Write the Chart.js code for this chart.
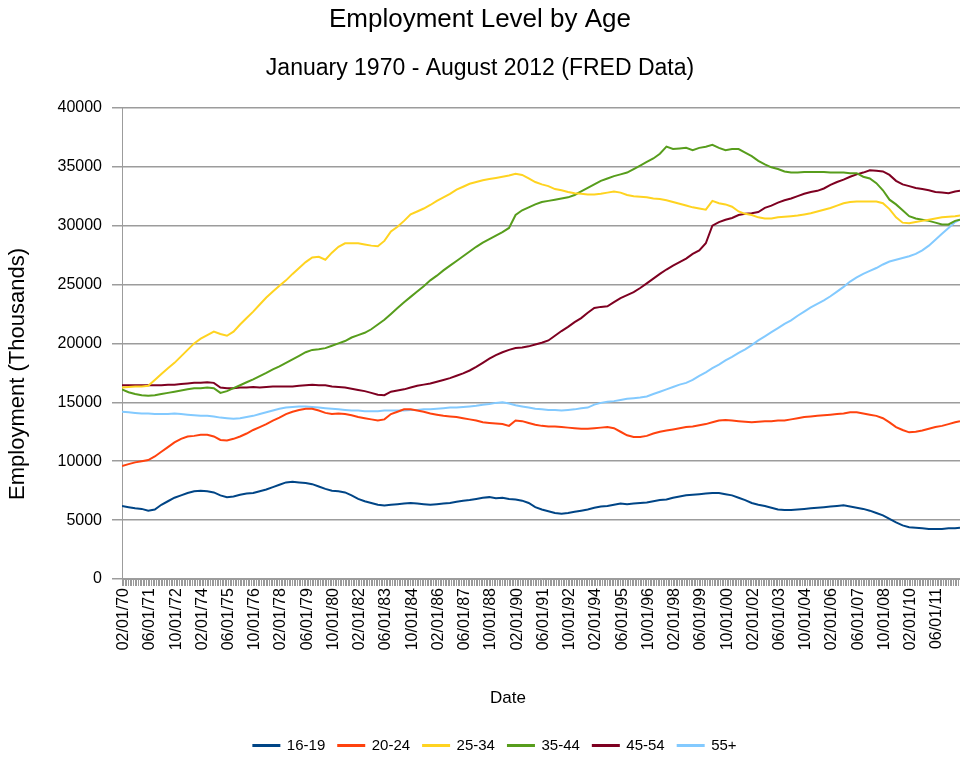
<!DOCTYPE html>
<html>
<head>
<meta charset="utf-8">
<script src="https://cdn.jsdelivr.net/npm/chart.js@4"></script>
<style>
  html, body { margin: 0; padding: 0; background: #ffffff; }
  #wrap { width: 960px; height: 759px; }
</style>
</head>
<body>
<div id="wrap"><canvas id="c" width="960" height="759"></canvas></div>
<script>
// ---- Data (thousands), sampled Jan / May / Sep of each year 1970-2011, then Jan 2012, May 2012, Aug 2012 ----
const seriesNames = ['16-19', '20-24', '25-34', '35-44', '45-54', '55+'];
const seriesColors = ['#004586', '#ff420e', '#ffd320', '#579d1c', '#7e0021', '#83caff'];

// month offsets from January 1970 of each sample
const sampleMonths = [];
for (let m = 0; m <= 508; m += 4) sampleMonths.push(m);
sampleMonths.push(511);

const age16_19 = [
  6200, 6100, 6000,  5950, 5800, 5900,  6300, 6600, 6900,  7100, 7300, 7450,
  7500, 7450, 7350,  7100, 6950, 7000,  7150, 7250, 7300,  7450, 7600, 7800,
  8000, 8200, 8250,  8200, 8150, 8050,  7850, 7650, 7500,  7450, 7350, 7100,
  6800, 6600, 6450,  6300, 6250, 6300,  6350, 6400, 6450,  6400, 6350, 6300,
  6350, 6400, 6450,  6550, 6650, 6700,  6800, 6900, 6950,  6850, 6900, 6800,
  6750, 6650, 6450,  6100, 5900, 5750,  5600, 5550, 5600,  5700, 5800, 5900,
  6050, 6150, 6200,  6300, 6400, 6350,  6400, 6450, 6500,  6600, 6700, 6750,
  6900, 7000, 7100,  7150, 7200, 7250,  7300, 7300, 7200,  7100, 6900, 6700,
  6450, 6300, 6200,  6050, 5900, 5850,  5850, 5900, 5950,  6000, 6050, 6100,
  6150, 6200, 6250,  6150, 6050, 5950,  5800, 5600, 5400,  5100, 4800, 4550,
  4400, 4350, 4300,  4250, 4250, 4250,  4300, 4300, 4350
];
const age20_24 = [
  9600, 9750, 9900,  10000, 10100, 10400,  10800, 11200, 11600,  11900, 12100, 12150,
  12250, 12250, 12100,  11800, 11750, 11900,  12100, 12350, 12650,  12900, 13150, 13450,
  13700, 14000, 14200,  14350, 14450, 14450,  14300, 14100, 14000,  14050, 14000, 13900,
  13750, 13650, 13550,  13450, 13550, 14000,  14200, 14400, 14400,  14300, 14200, 14050,
  13950, 13850, 13800,  13750, 13650, 13550,  13450, 13300, 13250,  13200, 13150, 13000,
  13450, 13400, 13250,  13100, 13000, 12950,  12950, 12900, 12850,  12800, 12750, 12750,
  12800, 12850, 12900,  12800, 12500, 12200,  12050, 12050, 12150,  12350, 12500, 12600,
  12700, 12800, 12900,  12950, 13050, 13150,  13300, 13450, 13500,  13450, 13400, 13350,
  13300, 13350, 13400,  13400, 13450, 13450,  13550, 13650, 13750,  13800, 13850, 13900,
  13950, 14000, 14050,  14150, 14150, 14050,  13950, 13850, 13650,  13300, 12900, 12650,
  12450, 12500, 12600,  12750, 12900, 13000,  13150, 13300, 13400
];
const age25_34 = [
  16250, 16300, 16350,  16350, 16400, 16900,  17400, 17900, 18350,  18900, 19450, 20000,
  20400, 20700, 21000,  20800, 20650, 21000,  21600, 22150, 22700,  23300, 23900, 24400,
  24900, 25350, 25900,  26400, 26900, 27300,  27350, 27100, 27700,  28200, 28500, 28500,
  28500, 28400, 28300,  28250, 28700, 29500,  29900, 30400, 30950,  31200, 31450, 31750,
  32100, 32400, 32700,  33050, 33300, 33550,  33700, 33850, 33950,  34050, 34150, 34250,
  34400, 34300, 34000,  33700, 33500, 33350,  33100, 33000, 32850,  32750, 32700, 32650,
  32650, 32700, 32800,  32900, 32800, 32600,  32500, 32450, 32400,  32300, 32250, 32150,
  32000, 31850, 31700,  31550, 31450, 31350,  32100, 31900, 31800,  31600, 31200, 31000,
  30900, 30700, 30600,  30600, 30700, 30750,  30800, 30850, 30950,  31050, 31200, 31350,
  31500, 31700, 31900,  32000, 32050, 32050,  32050, 32050, 31900,  31400, 30700, 30250,
  30200, 30300, 30400,  30500, 30600, 30700,  30750, 30800, 30850
];
const age35_44 = [
  16100, 15850, 15700,  15600, 15550, 15600,  15700, 15800, 15900,  16000, 16100, 16200,
  16200, 16250, 16200,  15800, 15950, 16200,  16450, 16700, 16950,  17230, 17500, 17800,
  18050, 18350, 18650,  18950, 19250, 19450,  19500, 19600, 19800,  20000, 20200, 20500,
  20700, 20900, 21200,  21600, 22000, 22500,  23000, 23500, 23950,  24400, 24850, 25350,
  25750, 26200, 26600,  27000, 27400, 27800,  28200, 28550, 28850,  29150, 29450, 29800,
  30900, 31300, 31550,  31800, 32000, 32100,  32200, 32300, 32400,  32600, 32900, 33200,
  33500, 33800, 34000,  34200, 34350, 34500,  34800, 35100, 35400,  35700, 36100, 36700,
  36500, 36550, 36600,  36400, 36600, 36700,  36850, 36600, 36400,  36500, 36500, 36200,
  35900, 35500, 35200,  34950, 34800, 34600,  34500, 34500, 34550,  34550, 34550, 34550,
  34500, 34500, 34500,  34450, 34450, 34150,  34000, 33600, 33000,  32200, 31800, 31300,
  30800, 30600, 30500,  30400, 30250, 30100,  30100, 30400, 30500
];
const age45_54 = [
  16450, 16450, 16450,  16450, 16450, 16450,  16450, 16500, 16500,  16550, 16600, 16650,
  16650, 16700, 16650,  16250, 16200, 16200,  16250, 16250, 16300,  16260, 16300, 16350,
  16350, 16350, 16350,  16400, 16450, 16500,  16450, 16450, 16350,  16300, 16250, 16150,
  16050, 15950, 15800,  15650, 15600, 15900,  16000, 16100, 16250,  16400, 16500, 16600,
  16750, 16900, 17050,  17250, 17450, 17700,  18000, 18350, 18700,  19000, 19250, 19450,
  19600, 19650, 19750,  19900, 20050, 20250,  20650, 21050, 21400,  21800, 22150, 22600,
  23000, 23100, 23150,  23500, 23850, 24100,  24350, 24700, 25100,  25500, 25900, 26270,
  26600, 26900, 27200,  27600, 27900, 28500,  30000, 30300, 30500,  30650, 30900, 31000,
  31050, 31150, 31500,  31700, 31950, 32150,  32300, 32500, 32700,  32850, 32950, 33150,
  33450, 33700, 33900,  34150, 34350, 34500,  34700, 34650, 34600,  34300, 33800, 33500,
  33350, 33200, 33100,  33000, 32850, 32800,  32750, 32900, 32950
];
const age55plus = [
  14200, 14150, 14100,  14050, 14050, 14000,  14000, 14000, 14050,  14000, 13950, 13900,
  13850, 13850, 13800,  13700, 13650, 13600,  13650, 13750, 13850,  14000, 14150, 14300,
  14450, 14550, 14600,  14650, 14650, 14600,  14550, 14500, 14450,  14400, 14350, 14300,
  14300, 14250, 14250,  14250, 14300, 14300,  14300, 14300, 14350,  14350, 14400, 14400,
  14450, 14500, 14550,  14550, 14600, 14650,  14700, 14800, 14850,  14950, 15000, 14900,
  14750, 14650, 14550,  14450, 14400, 14350,  14350, 14300, 14350,  14400, 14500, 14550,
  14800, 14950, 15050,  15100, 15200, 15300,  15350, 15400, 15500,  15700, 15900, 16100,
  16300, 16500, 16650,  16900, 17250, 17550,  17900, 18200, 18550,  18850, 19200, 19500,
  19850, 20250, 20600,  20950, 21300, 21650,  21950, 22350, 22700,  23050, 23350, 23650,
  24000, 24400, 24800,  25250, 25600, 25900,  26150, 26400, 26700,  26950, 27100, 27250,
  27400, 27600, 27900,  28300, 28800, 29300,  29800, 30300, 30500
];
const allSeries = [age16_19, age20_24, age25_34, age35_44, age45_54, age55plus];

// tick settings (labels every 16 months starting Feb 1970)
const yTickStep = 5000;
const yMax = 40000;
const xLabelEvery = 16;
const xLabelStart = 1;

function monthLabel(m) {
  const mm = String((m % 12) + 1).padStart(2, '0');
  const yy = String((1970 + Math.floor(m / 12)) % 100).padStart(2, '0');
  return mm + '/01/' + yy;
}

const FONT = "'Liberation Sans', Arial, sans-serif";
const gridColor = '#9c9c9c';

const datasets = seriesNames.map((name, i) => ({
  label: name,
  data: allSeries[i].map((v, j) => ({ x: sampleMonths[j], y: v })),
  borderColor: seriesColors[i],
  backgroundColor: seriesColors[i],
  borderWidth: 2,
  pointRadius: 0,
  tension: 0,
  fill: false
}));

// nudge the legend to where the reference draws it
const legendNudge = {
  id: 'legendNudge',
  afterLayout(chart) {
    const lg = chart.legend;
    if (!lg) return;
    lg.left += 15; lg.right += 15;
    lg.top += 4; lg.bottom += 4;
  }
};

new Chart(document.getElementById('c'), {
  type: 'line',
  data: { datasets },
  plugins: [legendNudge],
  options: {
    responsive: false,
    animation: false,
    devicePixelRatio: 1,
    layout: { padding: 0 },
    plugins: {
      title: {
        display: true,
        text: 'Employment Level by Age',
        color: '#000',
        font: { family: FONT, size: 26, weight: 'normal' },
        padding: { top: 4, bottom: 20 }
      },
      subtitle: {
        display: true,
        text: 'January 1970 - August 2012 (FRED Data)',
        color: '#000',
        font: { family: FONT, size: 23, weight: 'normal' },
        padding: { top: 0, bottom: 25 }
      },
      legend: {
        position: 'bottom',
        labels: {
          color: '#000',
          font: { family: FONT, size: 15 },
          boxWidth: 26,
          boxHeight: 1,
          padding: 13
        }
      },
      tooltip: { enabled: false }
    },
    scales: {
      x: {
        type: 'linear',
        min: 0,
        max: 511,
        afterFit(scale) { scale.height = 142; scale.paddingLeft = 0; scale.paddingRight = 0; },
        border: { display: true, color: gridColor, width: 1 },
        grid: { display: true, drawOnChartArea: false, drawTicks: true, tickLength: 7, color: '#9a9a9a', lineWidth: 1 },
        ticks: {
          stepSize: 1,
          autoSkip: false,
          minRotation: 90,
          maxRotation: 90,
          padding: 2,
          color: '#000',
          font: { family: FONT, size: 16 },
          callback: (v) => ((v - xLabelStart) % xLabelEvery === 0 ? monthLabel(v) : '')
        },
        title: {
          display: true,
          text: 'Date              ',
          color: '#000',
          font: { family: FONT, size: 17 },
          padding: { top: 0, bottom: 12 }
        }
      },
      y: {
        min: 0,
        max: yMax,
        afterFit(scale) { scale.width = 122; },
        border: { display: true, color: gridColor, width: 1 },
        grid: { color: gridColor, lineWidth: 1.5, tickLength: 10 },
        ticks: {
          stepSize: yTickStep,
          padding: 10,
          color: '#000',
          font: { family: FONT, size: 16 },
          callback: (v) => String(v)
        },
        title: {
          display: true,
          text: 'Employment (Thousands)          ',
          color: '#000',
          font: { family: FONT, size: 22 },
          padding: { top: 5, bottom: 0 }
        }
      }
    }
  }
});
</script>
</body>
</html>
